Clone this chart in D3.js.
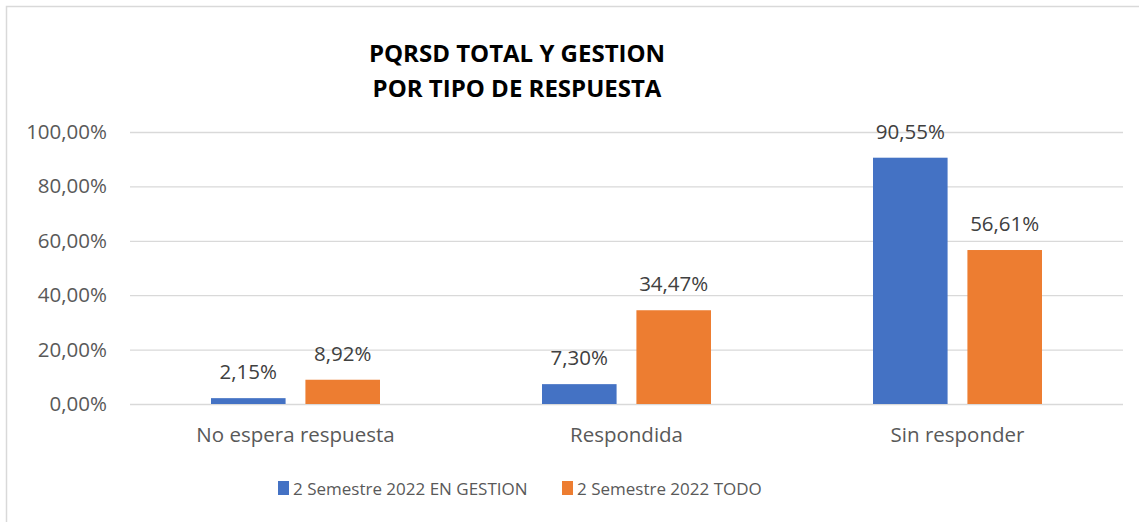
<!DOCTYPE html>
<html>
<head>
<meta charset="utf-8">
<script src="https://cdn.jsdelivr.net/npm/d3@7"></script>
<style>
  body { margin: 0; background: #fff; }
  text { font-family: "Open Sans", sans-serif; }
</style>
</head>
<body>
<svg width="1139" height="522"></svg>
<script>
var categories = ["No espera respuesta", "Respondida", "Sin responder"];
var seriesNames = ["2 Semestre 2022 EN GESTION", "2 Semestre 2022 TODO"];
var enGestion = [2.15, 7.30, 90.55];
var todo = [8.92, 34.47, 56.61];
var yTicks = [0, 20, 40, 60, 80, 100];
var colors = ["#4472C4", "#ED7D31"];

var svg = d3.select("svg"),
    margin = {top: 132, right: 16, bottom: 118, left: 130},
    width = 1123 - margin.left,
    height = 404 - margin.top,
    g = svg.append("g").attr("transform", "translate(" + margin.left + "," + margin.top + ")");

var fmt = function(v) { return d3.format(".2f")(v).replace(".", ",") + "%"; };

// chart frame
svg.append("rect")
    .attr("x", 6.5).attr("y", 6.5)
    .attr("width", 1160).attr("height", 540)
    .attr("fill", "none")
    .attr("stroke", "#d9d9d9")
    .attr("stroke-width", 1.5);

svg.append("text")
    .attr("x", 517).attr("y", 62)
    .attr("text-anchor", "middle")
    .style("font-size", "24px").style("font-weight", "bold")
    .attr("fill", "#000")
    .text("PQRSD TOTAL Y GESTION");
svg.append("text")
    .attr("x", 517).attr("y", 97)
    .attr("text-anchor", "middle")
    .style("font-size", "24px").style("font-weight", "bold")
    .attr("fill", "#000")
    .text("POR TIPO DE RESPUESTA");

var x0 = d3.scaleBand().domain(categories).range([0, width]);
var x1 = d3.scaleBand().domain([0, 1]).range([0, 169]).paddingInner(0.21);
var y = d3.scaleLinear().domain([0, 100]).range([height, 0]);

var data = categories.map(function(c, i) {
    return {cat: c, values: [enGestion[i], todo[i]]};
});

g.append("g")
    .attr("class", "grid")
    .call(d3.axisLeft(y).tickValues(yTicks).tickSize(-width).tickFormat(""))
    .call(function(s) {
        s.select(".domain").remove();
        s.selectAll("line").attr("stroke", "#d9d9d9").attr("stroke-width", 1.3);
    });

g.append("g")
    .call(d3.axisLeft(y).tickValues(yTicks).tickSize(0).tickPadding(23).tickFormat(fmt))
    .call(function(s) {
        s.select(".domain").remove();
        s.selectAll("text")
            .style("font-size", "20.5px")
            .style("font-family", "'Open Sans', sans-serif")
            .attr("fill", "#595959");
    });

g.append("g")
    .attr("transform", "translate(0," + height + ")")
    .call(d3.axisBottom(x0).tickSize(0).tickPadding(23))
    .call(function(s) {
        s.select(".domain").remove();
        s.selectAll("text")
            .style("font-size", "20.5px")
            .style("font-family", "'Open Sans', sans-serif")
            .attr("fill", "#595959");
    });

var group = g.selectAll(".group").data(data)
    .enter().append("g")
    .attr("class", "group")
    .attr("transform", function(d) { return "translate(" + (x0(d.cat) + x0.bandwidth() / 2 - 84.5) + ",0)"; });

var bars = group.selectAll("rect")
    .data(function(d) { return d.values.map(function(v, i) { return {i: i, v: v}; }); })
    .enter();

bars.append("rect")
    .attr("x", function(d) { return x1(d.i); })
    .attr("width", x1.bandwidth())
    .attr("y", function(d) { return y(d.v); })
    .attr("height", function(d) { return height - y(d.v); })
    .attr("fill", function(d) { return colors[d.i]; });

bars.append("text")
    .attr("x", function(d) { return x1(d.i) + x1.bandwidth() / 2; })
    .attr("y", function(d) { return y(d.v) - 19; })
    .attr("text-anchor", "middle")
    .style("font-size", "20.5px")
    .attr("fill", "#404040")
    .text(function(d) { return fmt(d.v); });

// legend
var legendX = [278, 562];
var legend = svg.selectAll(".legend").data(seriesNames)
    .enter().append("g")
    .attr("class", "legend")
    .attr("transform", function(d, i) { return "translate(" + legendX[i] + ",481)"; });

legend.append("rect")
    .attr("width", 11).attr("height", 14)
    .attr("fill", function(d, i) { return colors[i]; });

legend.append("text")
    .attr("x", 15).attr("y", 14)
    .style("font-size", "17px")
    .attr("fill", "#595959")
    .text(function(d) { return d; });
</script>
</body>
</html>
